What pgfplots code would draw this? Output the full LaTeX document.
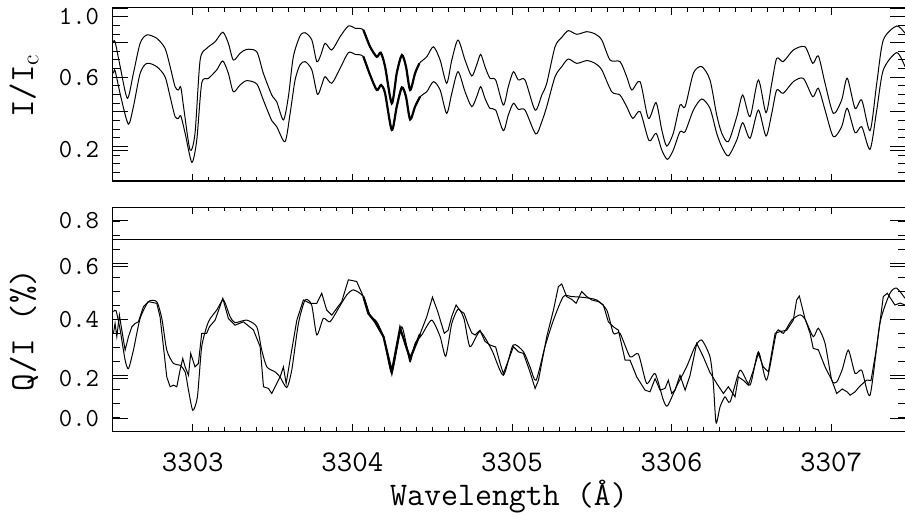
\documentclass[border=0pt]{standalone}
\usepackage{pgfplots}
\usepackage{pgfplotstable}
\pgfplotsset{compat=1.18}

\pgfplotstableread{
x y
3302.500 0.800
3302.513 0.805
3302.545 0.661
3302.590 0.478
3302.628 0.623
3302.670 0.796
3302.712 0.844
3302.774 0.825
3302.826 0.767
3302.858 0.661
3302.889 0.545
3302.910 0.526
3302.925 0.542
3302.945 0.410
3302.983 0.179
3303.014 0.276
3303.046 0.699
3303.088 0.767
3303.140 0.805
3303.188 0.860
3303.223 0.796
3303.254 0.699
3303.296 0.738
3303.338 0.761
3303.401 0.747
3303.442 0.623
3303.495 0.497
3303.526 0.458
3303.568 0.353
3303.599 0.487
3303.630 0.718
3303.672 0.838
3303.704 0.857
3303.746 0.815
3303.777 0.690
3303.802 0.728
3303.829 0.796
3303.871 0.757
3303.923 0.834
3303.975 0.896
3304.017 0.883
3304.069 0.873
3304.111 0.776
3304.153 0.718
3304.178 0.742
3304.205 0.661
3304.247 0.449
3304.278 0.623
3304.310 0.728
3304.336 0.661
3304.362 0.526
3304.393 0.623
3304.420 0.680
3304.466 0.718
3304.508 0.776
3304.550 0.699
3304.591 0.565
3304.623 0.699
3304.662 0.815
3304.706 0.699
3304.748 0.607
3304.779 0.671
3304.804 0.732
3304.831 0.661
3304.862 0.594
3304.898 0.584
3304.946 0.439
3304.977 0.545
3305.009 0.632
3305.040 0.584
3305.082 0.584
3305.145 0.410
3305.187 0.497
3305.218 0.565
3305.270 0.776
3305.312 0.830
3305.353 0.869
3305.406 0.848
3305.469 0.863
3305.521 0.850
3305.563 0.815
3305.615 0.699
3305.677 0.690
3305.719 0.603
3305.751 0.526
3305.803 0.574
3305.855 0.362
3305.903 0.453
3305.939 0.295
3305.970 0.202
3306.011 0.276
3306.053 0.439
3306.085 0.429
3306.137 0.623
3306.189 0.661
3306.241 0.584
3306.283 0.382
3306.315 0.276
3306.356 0.227
3306.409 0.372
3306.446 0.497
3306.492 0.372
3306.544 0.584
3306.592 0.395
3306.628 0.565
3306.659 0.709
3306.700 0.690
3306.763 0.757
3306.836 0.776
3306.885 0.680
3306.920 0.723
3306.962 0.565
3307.014 0.391
3307.066 0.468
3307.101 0.594
3307.150 0.420
3307.192 0.468
3307.244 0.291
3307.286 0.565
3307.327 0.815
3307.411 0.896
3307.463 0.854
}\Tupper

\pgfplotstableread{
x y
3302.503 0.622
3302.513 0.638
3302.549 0.487
3302.596 0.329
3302.628 0.430
3302.670 0.622
3302.712 0.680
3302.774 0.661
3302.826 0.603
3302.858 0.487
3302.889 0.372
3302.910 0.362
3302.925 0.376
3302.952 0.276
3302.994 0.108
3303.025 0.237
3303.056 0.565
3303.098 0.593
3303.150 0.642
3303.188 0.694
3303.223 0.622
3303.254 0.516
3303.296 0.555
3303.338 0.580
3303.401 0.561
3303.442 0.468
3303.495 0.349
3303.526 0.314
3303.578 0.227
3303.610 0.391
3303.641 0.584
3303.672 0.671
3303.704 0.690
3303.746 0.642
3303.781 0.501
3303.808 0.555
3303.829 0.603
3303.871 0.565
3303.923 0.651
3303.975 0.742
3304.017 0.732
3304.069 0.719
3304.111 0.613
3304.153 0.526
3304.180 0.555
3304.205 0.507
3304.247 0.295
3304.278 0.430
3304.310 0.541
3304.336 0.487
3304.362 0.356
3304.393 0.430
3304.424 0.487
3304.466 0.516
3304.508 0.574
3304.550 0.526
3304.591 0.391
3304.623 0.507
3304.662 0.632
3304.706 0.516
3304.748 0.430
3304.779 0.487
3304.804 0.545
3304.831 0.478
3304.862 0.420
3304.898 0.410
3304.946 0.291
3304.977 0.381
3305.009 0.449
3305.040 0.414
3305.082 0.410
3305.149 0.272
3305.187 0.343
3305.218 0.430
3305.270 0.603
3305.312 0.661
3305.353 0.705
3305.406 0.680
3305.469 0.696
3305.521 0.680
3305.563 0.642
3305.625 0.516
3305.677 0.497
3305.719 0.430
3305.757 0.362
3305.803 0.401
3305.859 0.233
3305.903 0.276
3305.939 0.179
3305.974 0.125
3306.011 0.179
3306.053 0.285
3306.085 0.285
3306.137 0.410
3306.189 0.474
3306.241 0.420
3306.283 0.276
3306.315 0.198
3306.356 0.145
3306.409 0.237
3306.446 0.337
3306.492 0.247
3306.544 0.410
3306.592 0.260
3306.628 0.391
3306.659 0.526
3306.700 0.507
3306.763 0.574
3306.826 0.593
3306.885 0.487
3306.920 0.536
3306.962 0.410
3307.014 0.256
3307.066 0.314
3307.101 0.420
3307.150 0.279
3307.192 0.314
3307.244 0.183
3307.286 0.410
3307.327 0.642
3307.411 0.742
3307.463 0.661
}\Tlower

\pgfplotstableread{
x y
3302.503 0.426
3302.519 0.430
3302.545 0.361
3302.576 0.253
3302.597 0.223
3302.628 0.289
3302.670 0.402
3302.722 0.462
3302.774 0.462
3302.806 0.402
3302.837 0.289
3302.879 0.241
3302.920 0.235
3302.952 0.211
3302.973 0.146
3303.000 0.074
3303.029 0.122
3303.056 0.301
3303.098 0.390
3303.150 0.432
3303.192 0.468
3303.234 0.408
3303.265 0.387
3303.338 0.396
3303.401 0.372
3303.432 0.289
3303.464 0.229
3303.516 0.211
3303.547 0.193
3303.589 0.155
3303.620 0.217
3303.662 0.384
3303.704 0.468
3303.745 0.450
3303.777 0.343
3303.818 0.402
3303.860 0.390
3303.913 0.438
3303.965 0.486
3304.007 0.504
3304.069 0.480
3304.111 0.414
3304.153 0.390
3304.195 0.337
3304.220 0.265
3304.247 0.205
3304.278 0.289
3304.309 0.372
3304.337 0.313
3304.362 0.247
3304.393 0.313
3304.435 0.343
3304.497 0.396
3304.550 0.337
3304.585 0.267
3304.623 0.384
3304.664 0.436
3304.700 0.400
3304.737 0.301
3304.800 0.355
3304.874 0.289
3304.946 0.199
3305.007 0.307
3305.072 0.283
3305.113 0.229
3305.151 0.181
3305.207 0.301
3305.260 0.396
3305.322 0.480
3305.375 0.480
3305.448 0.477
3305.531 0.468
3305.594 0.432
3305.636 0.349
3305.677 0.349
3305.740 0.265
3305.792 0.275
3305.844 0.170
3305.897 0.205
3305.949 0.110
3305.975 0.090
3306.032 0.160
3306.095 0.230
3306.147 0.301
3306.189 0.325
3306.241 0.265
3306.262 0.170
3306.279 0.029
3306.304 0.086
3306.335 0.122
3306.367 0.104
3306.429 0.217
3306.492 0.164
3306.544 0.283
3306.596 0.182
3306.659 0.355
3306.701 0.349
3306.753 0.396
3306.805 0.415
3306.836 0.400
3306.888 0.337
3306.920 0.367
3306.962 0.313
3307.004 0.182
3307.035 0.175
3307.070 0.220
3307.108 0.289
3307.150 0.206
3307.192 0.217
3307.244 0.128
3307.306 0.385
3307.369 0.492
3307.411 0.510
3307.463 0.474
}\Bsmooth

\pgfplotstableread{
x y
3302.503 0.349
3302.513 0.384
3302.524 0.337
3302.540 0.414
3302.555 0.361
3302.576 0.289
3302.597 0.337
3302.618 0.372
3302.639 0.384
3302.659 0.390
3302.691 0.444
3302.722 0.462
3302.774 0.456
3302.795 0.408
3302.816 0.301
3302.837 0.193
3302.858 0.158
3302.879 0.164
3302.900 0.158
3302.920 0.217
3302.937 0.259
3302.952 0.229
3302.973 0.199
3302.987 0.277
3303.014 0.229
3303.035 0.241
3303.056 0.349
3303.087 0.349
3303.104 0.372
3303.140 0.396
3303.188 0.474
3303.223 0.402
3303.265 0.378
3303.317 0.390
3303.380 0.361
3303.422 0.301
3303.443 0.158
3303.474 0.152
3303.495 0.134
3303.516 0.158
3303.547 0.193
3303.568 0.229
3303.585 0.170
3303.620 0.289
3303.652 0.396
3303.693 0.468
3303.735 0.456
3303.777 0.456
3303.808 0.492
3303.839 0.432
3303.871 0.414
3303.933 0.462
3303.975 0.540
3304.027 0.534
3304.069 0.480
3304.100 0.420
3304.142 0.390
3304.195 0.337
3304.247 0.211
3304.299 0.367
3304.362 0.259
3304.424 0.346
3304.466 0.408
3304.502 0.478
3304.535 0.426
3304.576 0.349
3304.600 0.360
3304.623 0.410
3304.650 0.450
3304.675 0.430
3304.700 0.420
3304.727 0.378
3304.748 0.350
3304.769 0.343
3304.800 0.360
3304.831 0.320
3304.863 0.307
3304.898 0.300
3304.926 0.241
3304.946 0.205
3304.978 0.253
3305.009 0.301
3305.040 0.283
3305.072 0.277
3305.113 0.211
3305.145 0.152
3305.166 0.181
3305.218 0.337
3305.260 0.432
3305.291 0.516
3305.312 0.525
3305.343 0.480
3305.375 0.470
3305.402 0.456
3305.437 0.498
3305.469 0.480
3305.500 0.468
3305.542 0.462
3305.573 0.450
3305.604 0.390
3305.636 0.372
3305.667 0.360
3305.709 0.253
3305.740 0.253
3305.782 0.193
3305.834 0.146
3305.865 0.140
3305.897 0.187
3305.928 0.146
3305.959 0.152
3305.980 0.181
3306.001 0.134
3306.022 0.146
3306.053 0.199
3306.085 0.146
3306.116 0.199
3306.158 0.313
3306.199 0.265
3306.240 0.210
3306.283 0.170
3306.325 0.134
3306.356 0.158
3306.398 0.122
3306.419 0.193
3306.450 0.181
3306.481 0.164
3306.513 0.217
3306.544 0.277
3306.575 0.229
3306.607 0.211
3306.649 0.349
3306.680 0.355
3306.722 0.360
3306.763 0.396
3306.784 0.468
3306.801 0.482
3306.836 0.402
3306.868 0.349
3306.888 0.295
3306.920 0.290
3306.962 0.229
3307.004 0.182
3307.035 0.134
3307.070 0.150
3307.100 0.140
3307.119 0.128
3307.150 0.140
3307.180 0.160
3307.223 0.182
3307.250 0.180
3307.286 0.301
3307.327 0.480
3307.352 0.492
3307.400 0.450
3307.432 0.457
3307.463 0.450
}\Bnoisy

\pgfplotsset{
  panel/.style={
    scale only axis, width=396pt,
    xmin=3302.5, xmax=3307.463,
    xtick={3303,3304,3305,3306,3307},
    minor x tick num=9,
    tick style={black, line width=0.4pt},
    xtick style={/pgfplots/major tick length=3.5pt, /pgfplots/minor tick length=2pt},
    ytick style={/pgfplots/major tick length=7.5pt, /pgfplots/minor tick length=3.5pt},
    minor y tick num=3,
    yticklabels={},
    axis line style={line width=0.5pt},
    /pgf/number format/assume math mode=true,
    yticklabel style={font=\fontsize{13}{13}\ttfamily, anchor=center, xshift=-17pt},
    xticklabel style={font=\fontsize{15}{15}\ttfamily, anchor=center, yshift=-15.5pt},
    extra y tick style={/pgfplots/major tick length=0pt},
    ylabel style={font=\fontsize{17}{17}\ttfamily, anchor=center},
    every axis plot/.append style={line width=0.5pt, black},
  }
}

\begin{document}
\begin{tikzpicture}
\useasboundingbox (0pt,0pt) rectangle (452.5pt,-259.5pt);

\begin{axis}[panel,
  at={(56.5pt,-4pt)}, anchor=north west, height=86.5pt,
  ymin=0, ymax=1,
  ytick={0,0.2,0.4,0.6,0.8,1.0},
  xticklabels={},
  extra y ticks={0.179,0.600,0.950},
  extra y tick labels={0.2,0.6,1.0},
  ylabel={I/I$_{\mathrm{c}}$},
  ylabel style={at={(axis description cs:-0.1124,0.55)}},
]
\addplot[smooth, tension=0.45] table {\Tupper};
\addplot[smooth, tension=0.45] table {\Tlower};
\addplot[smooth, tension=0.45, line width=1.1pt, restrict x to domain=3304.06:3304.43] table {\Tupper};
\addplot[smooth, tension=0.45, line width=1.1pt, restrict x to domain=3304.06:3304.43] table {\Tlower};
\end{axis}

\begin{axis}[panel,
  at={(56.5pt,-103.5pt)}, anchor=north west, height=112pt,
  ymin=0, ymax=0.8,
  ytick={0,0.2,0.4,0.6,0.8},
  xticklabels={3303,3304,3305,3306,3307},
  extra y ticks={0.045,0.189,0.399,0.587,0.752},
  extra y tick labels={0.0,0.2,0.4,0.6,0.8},
  ylabel={Q/I (\%)},
  ylabel style={at={(axis description cs:-0.1124,0.45)}},
  xlabel={Wavelength (\AA)},
  xlabel style={font=\fontsize{16.5}{16.5}\ttfamily, at={(axis description cs:0.5,-0.2946)}, anchor=center},
]
\addplot[line width=0.5pt] coordinates {(3302.5,0.683) (3307.463,0.683)};
\addplot[smooth, tension=0.4] table {\Bsmooth};
\addplot[] table {\Bnoisy};
\addplot[line width=1.1pt, restrict x to domain=3304.06:3304.43] table {\Bnoisy};
\end{axis}
\end{tikzpicture}
\end{document}
